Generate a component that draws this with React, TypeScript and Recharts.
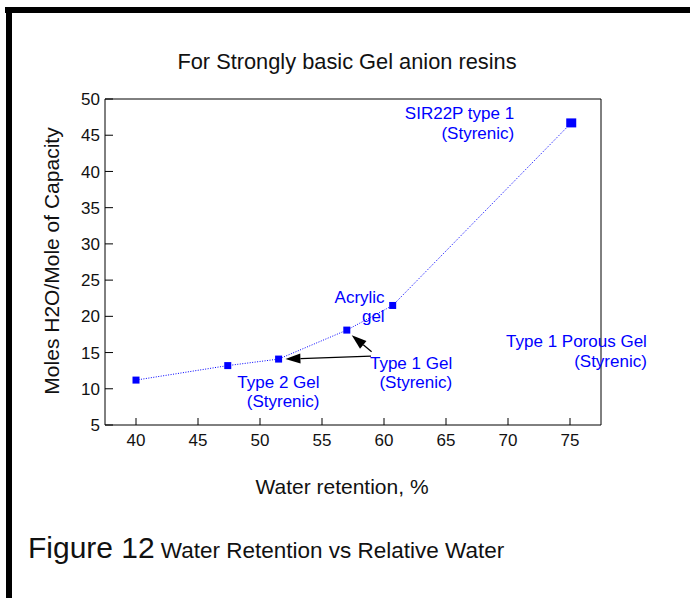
import React from "react";
import {
  LineChart,
  Line,
  XAxis,
  YAxis,
  ReferenceArea,
  ReferenceDot,
  ReferenceLine,
} from "recharts";

// ---- data ----
const waterRetention = [40, 47.4, 51.5, 57.0, 60.7, 75.1];
const molesPerCapacity = [11.2, 13.2, 14.1, 18.1, 21.5, 46.7];
const xTicks = [40, 45, 50, 55, 60, 65, 70, 75];
const yTicks = [5, 10, 15, 20, 25, 30, 35, 40, 45, 50];
const xDomain = [37.5, 77.5];
const yDomain = [5, 50];

// annotation anchors (data units) and text lines
const annotationX = [70.5, 60.05, 65.5, 54.8, 81.2];
const annotationY = [48.1, 22.7, 13.6, 10.95, 16.6];
const annotationLines = [
  ["SIR22P type 1", "(Styrenic)"],
  ["Acrylic", "gel"],
  ["Type 1 Gel", "(Styrenic)"],
  ["Type 2 Gel", "(Styrenic)"],
  ["Type 1 Porous Gel", "(Styrenic)"],
];
// arrows: [fromX, fromY, toX, toY] in data units
const arrowFrom = [
  [58.95, 14.5],
  [59.0, 15.1],
];
const arrowTo = [
  [52.05, 14.1],
  [57.4, 17.4],
];

const data = waterRetention.map((x, i) => ({ x, y: molesPerCapacity[i] }));

const FONT = "'Liberation Sans', Arial, sans-serif";
const BLUE = "#0000ff";

const YTick = (props: any) => {
  const { x, y, payload } = props;
  return (
    <g>
      <line x1={x} y1={y} x2={x + 8} y2={y} stroke="#000" strokeWidth={1} />
      <text x={x - 5} y={y} dy="0.36em" textAnchor="end" fontSize={17} fontFamily={FONT} fill="#111">
        {payload.value}
      </text>
    </g>
  );
};

const XTick = (props: any) => {
  const { x, y, payload } = props;
  return (
    <g>
      <line x1={x} y1={y} x2={x} y2={y - 7} stroke="#000" strokeWidth={1} />
      <text x={x} y={y + 21} textAnchor="middle" fontSize={17} fontFamily={FONT} fill="#111">
        {payload.value}
      </text>
    </g>
  );
};

const renderDot = (props: any) => {
  const { cx, cy, index } = props;
  const big = index === data.length - 1;
  const w = big ? 10 : 7;
  const h = big ? 9 : 7;
  return <rect key={"d" + index} x={cx - w / 2} y={cy - h / 2} width={w} height={h} fill={BLUE} />;
};

const makeLabel = (lines: string[], spacing: number) => (p: any) => {
  const { cx, cy } = p;
  return (
    <g>
      {lines.map((t, i) => (
        <text
          key={i}
          x={cx}
          y={cy + i * spacing}
          dy="0.36em"
          textAnchor="end"
          fontSize={17}
          fontFamily={FONT}
          fill={BLUE}
        >
          {t}
        </text>
      ))}
    </g>
  );
};

const arrowShape = (p: any) => {
  const { x1, y1, x2, y2 } = p;
  const dx = x2 - x1;
  const dy = y2 - y1;
  const len = Math.sqrt(dx * dx + dy * dy);
  const ux = dx / len;
  const uy = dy / len;
  const hl = 15;
  const hw = 5;
  const bx = x2 - ux * hl;
  const by = y2 - uy * hl;
  const pts = `${x2},${y2} ${bx - uy * hw},${by + ux * hw} ${bx + uy * hw},${by - ux * hw}`;
  return (
    <g>
      <line x1={x1} y1={y1} x2={bx} y2={by} stroke="#000" strokeWidth={1.3} />
      <polygon points={pts} fill="#000" />
    </g>
  );
};

const spacings = [20, 19, 19, 19, 20];

export default function App() {
  return (
    <div style={{ position: "absolute", left: 0, top: 0, width: 690, height: 598, background: "#fff" }}>
      <LineChart
        width={690}
        height={598}
        data={data}
        margin={{ top: 99, right: 89, bottom: 143, left: 45 }}
      >
        <XAxis
          type="number"
          dataKey="x"
          domain={xDomain}
          ticks={xTicks}
          allowDataOverflow
          axisLine={false}
          tickLine={false}
          tickSize={0}
          tickMargin={0}
          height={30}
          tick={<XTick />}
        />
        <YAxis
          type="number"
          domain={yDomain}
          ticks={yTicks}
          allowDataOverflow
          axisLine={false}
          tickLine={false}
          tickSize={0}
          tickMargin={0}
          width={60}
          tick={<YTick />}
        />
        <ReferenceArea
          x1={xDomain[0]}
          x2={xDomain[1]}
          y1={yDomain[0]}
          y2={yDomain[1]}
          fill="none"
          fillOpacity={0}
          stroke="#000"
          strokeWidth={1}
        />
        <Line
          type="linear"
          dataKey="y"
          stroke={BLUE}
          strokeWidth={1}
          strokeDasharray="1 1.5"
          dot={renderDot}
          activeDot={false}
          isAnimationActive={false}
        />
        {arrowFrom.map((f, i) => (
          <ReferenceLine
            key={"a" + i}
            segment={[
              { x: f[0], y: f[1] },
              { x: arrowTo[i][0], y: arrowTo[i][1] },
            ]}
            ifOverflow="visible"
            shape={arrowShape}
          />
        ))}
        {annotationX.map((x, i) => (
          <ReferenceDot
            key={"l" + i}
            x={x}
            y={annotationY[i]}
            r={0}
            ifOverflow="visible"
            shape={makeLabel(annotationLines[i], spacings[i])}
          />
        ))}
      </LineChart>
      <svg
        width={690}
        height={598}
        style={{ position: "absolute", left: 0, top: 0, pointerEvents: "none" }}
      >
        <rect x={5} y={7} width={685} height={6} fill="#000" />
        <rect x={6} y={7} width={6} height={591} fill="#000" />
        <text x={347} y={69} textAnchor="middle" fontSize={21.8} fontFamily={FONT} fill="#111">
          For Strongly basic Gel anion resins
        </text>
        <text
          x={0}
          y={0}
          transform="translate(59,261) rotate(-90)"
          textAnchor="middle"
          fontSize={21}
          fontFamily={FONT}
          fill="#111"
        >
          Moles H2O/Mole of Capacity
        </text>
        <text x={342} y={494} textAnchor="middle" fontSize={21} fontFamily={FONT} fill="#111">
          Water retention, %
        </text>
        <text x={28} y={558} fontFamily={FONT} fill="#111">
          <tspan fontSize={30}>Figure 12</tspan>
          <tspan fontSize={22.5} dx={6}>Water Retention vs Relative Water</tspan>
        </text>
      </svg>
    </div>
  );
}
